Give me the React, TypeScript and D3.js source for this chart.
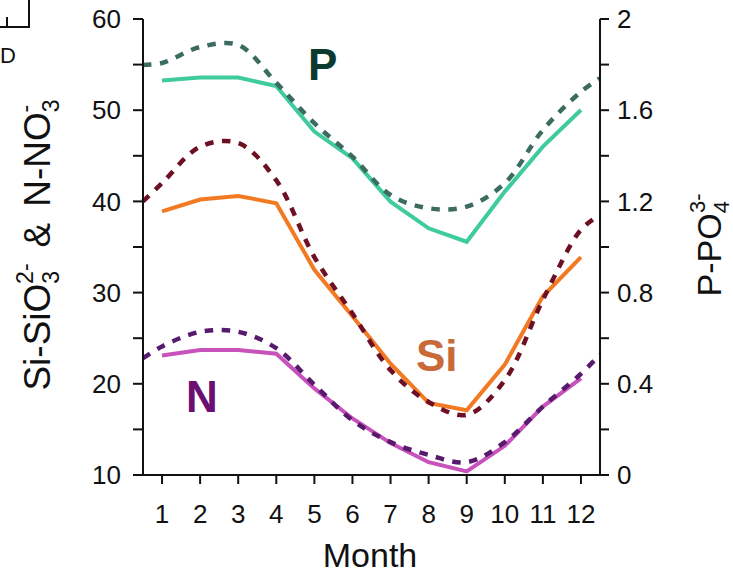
import React from "react";
import * as d3 from "d3";

const months = [1, 2, 3, 4, 5, 6, 7, 8, 9, 10, 11, 12];
// observed (solid) series
const pSolid = [1.73, 1.743, 1.743, 1.706, 1.506, 1.389, 1.199, 1.082, 1.023, 1.243, 1.44, 1.601];
const siSolid = [38.9, 40.2, 40.6, 39.8, 32.5, 27.4, 22.2, 17.9, 17.1, 22.1, 29.6, 33.9];
const nSolid = [23.1, 23.7, 23.7, 23.3, 19.5, 16.2, 13.5, 11.4, 10.4, 13.2, 17.5, 20.6];
// fitted (dashed) series, sampled at the plot edges and each month
const fitX = [0.5, 1, 2, 3, 4, 5, 6, 7, 8, 9, 10, 11, 12, 12.5];
const pDashed = [1.798, 1.807, 1.877, 1.886, 1.72, 1.543, 1.396, 1.228, 1.17, 1.177, 1.28, 1.513, 1.681, 1.74];
const siDashed = [40.0, 42.0, 46.0, 46.4, 42.3, 33.9, 27.7, 21.5, 18.0, 16.6, 20.4, 29.2, 36.9, 38.5];
const nDashed = [22.8, 24.1, 25.7, 25.7, 23.9, 19.9, 16.0, 13.6, 12.2, 11.4, 13.6, 17.5, 21.1, 23.2];

const leftTicks = [10, 15, 20, 25, 30, 35, 40, 45, 50, 55, 60];
const leftLabels = [10, 20, 30, 40, 50, 60];
const rightTicks = [0, 0.2, 0.4, 0.6, 0.8, 1, 1.2, 1.4, 1.6, 1.8, 2];
const rightLabels = [0, 0.4, 0.8, 1.2, 1.6, 2];

const FONT = "'Liberation Sans', Arial, sans-serif";

export default function App() {
  const x = d3.scaleLinear().domain([0.5, 12.5]).range([143, 600]);
  const yL = d3.scaleLinear().domain([10, 60]).range([475, 19]);
  const yR = d3.scaleLinear().domain([0, 2]).range([475, 19]);

  const solid = (vals: number[], y: d3.ScaleLinear<number, number>) =>
    d3.line<number>().x((_, i) => x(months[i])).y((v) => y(v))(vals) || "";
  const dashed = (vals: number[], y: d3.ScaleLinear<number, number>) =>
    d3
      .line<number>()
      .x((_, i) => x(fitX[i]))
      .y((v) => y(v))
      .curve(d3.curveCatmullRom.alpha(0.5))(vals) || "";

  const dash = "8.5 8.5";

  return (
    <svg width={733} height={573} style={{ position: "absolute", left: 0, top: 0, background: "#fff" }} fontFamily={FONT}>
      {/* fragment of neighbouring panel */}
      <path d="M29,0 V27 H0 M7,17 V27" fill="none" stroke="#111" strokeWidth={2} />
      <text x={0} y={63} fontSize={22} fill="#111">D</text>

      {/* solid lines */}
      <path d={solid(pSolid, yR)} fill="none" stroke="#3fcb9d" strokeWidth={4} />
      <path d={solid(siSolid, yL)} fill="none" stroke="#f27a22" strokeWidth={4} />
      <path d={solid(nSolid, yL)} fill="none" stroke="#c852bb" strokeWidth={4} />

      {/* dashed lines */}
      <path d={dashed(pDashed, yR)} fill="none" stroke="#3b6b61" strokeWidth={4.5} strokeDasharray={dash} />
      <path d={dashed(siDashed, yL)} fill="none" stroke="#6e1024" strokeWidth={4.5} strokeDasharray={dash} />
      <path d={dashed(nDashed, yL)} fill="none" stroke="#581a6c" strokeWidth={4.5} strokeDasharray={dash} />

      {/* axes */}
      <g stroke="#111" strokeWidth={2}>
        <line x1={143} x2={143} y1={yL(60)} y2={475} />
        <line x1={600} x2={600} y1={yR(2)} y2={475} />
        <line x1={143} x2={600} y1={475} y2={475} />
        {leftTicks.map((t) => (
          <line key={"l" + t} x1={133} x2={143} y1={yL(t)} y2={yL(t)} />
        ))}
        {rightTicks.map((t) => (
          <line key={"r" + t} x1={600} x2={609} y1={yR(t)} y2={yR(t)} />
        ))}
        {months.map((m) => (
          <line key={"x" + m} x1={x(m)} x2={x(m)} y1={475} y2={484} />
        ))}
      </g>
      <g fontSize={26} fill="#111">
        {leftLabels.map((t) => (
          <text key={"ll" + t} x={121} y={yL(t)} dy="0.35em" textAnchor="end">{t}</text>
        ))}
        {rightLabels.map((t) => (
          <text key={"rl" + t} x={617} y={yR(t)} dy="0.35em" textAnchor="start">{t}</text>
        ))}
        {months.map((m) => (
          <text key={"xl" + m} x={x(m)} y={523} textAnchor="middle">{m}</text>
        ))}
      </g>

      {/* axis titles */}
      <text x={370} y={567} textAnchor="middle" fontSize={34} fill="#111">Month</text>
      <text transform="translate(50,245) rotate(-90)" textAnchor="middle" fontSize={37} fill="#111">
        Si-SiO<tspan fontSize={23} dy={9}>3</tspan>
        <tspan fontSize={23} dx={-13} dy={-26}>2-</tspan>
        <tspan dy={17} dx={16}>&amp;</tspan>
        <tspan dx={16}>N-NO</tspan>
        <tspan fontSize={23} dy={9}>3</tspan>
        <tspan fontSize={23} dx={-13} dy={-26}>-</tspan>
      </text>
      <text transform="translate(721,245) rotate(-90)" textAnchor="middle" fontSize={34} fill="#111">
        P-PO<tspan fontSize={22} dy={8}>4</tspan>
        <tspan fontSize={22} dx={-12} dy={-24}>3-</tspan>
      </text>

      {/* series labels */}
      <text x={308} y={80} fontSize={44} fontWeight="bold" fill="#0b3b2f">P</text>
      <text x={416} y={371} fontSize={44} fontWeight="bold" fill="#c86a3a">Si</text>
      <text x={186} y={412} fontSize={44} fontWeight="bold" fill="#6b0f72">N</text>
    </svg>
  );
}
